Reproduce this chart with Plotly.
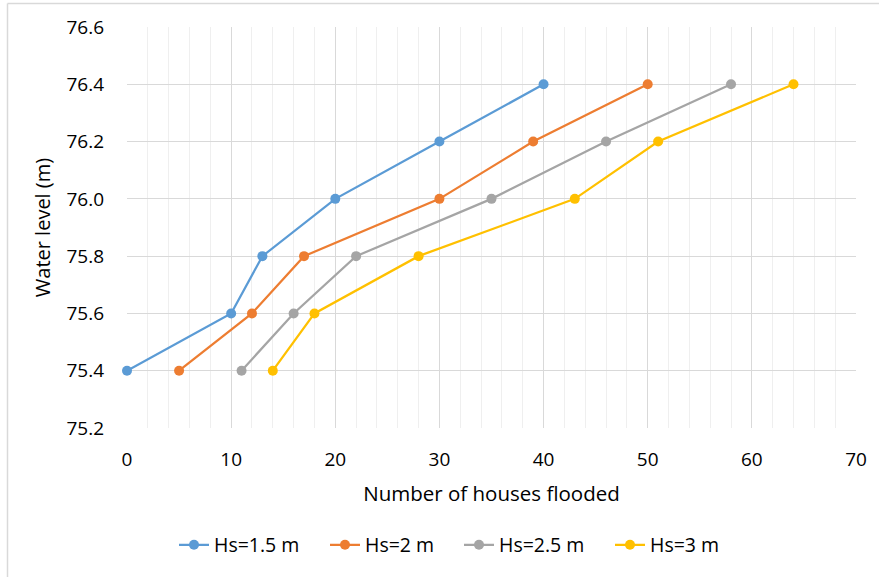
import plotly.graph_objects as go

levels = [75.4, 75.6, 75.8, 76.0, 76.2, 76.4]
hs15 = [0, 10, 13, 20, 30, 40]
hs2 = [5, 12, 17, 30, 39, 50]
hs25 = [11, 16, 22, 35, 46, 58]
hs3 = [14, 18, 28, 43, 51, 64]
names = ["Hs=1.5 m", "Hs=2 m", "Hs=2.5 m", "Hs=3 m"]
colors = ["#5B9BD5", "#ED7D31", "#A5A5A5", "#FFC000"]

W, H = 879, 577
L, R, T, B = 127, 23, 27, 147
pw, ph = W - L - R, H - T - B

legend_ids = ["legend", "legend2", "legend3", "legend4"]
legend_px = [174, 325, 459, 610]

fig = go.Figure()
for xs, name, c, lid in zip([hs15, hs2, hs25, hs3], names, colors, legend_ids):
    fig.add_trace(go.Scatter(x=xs, y=levels, name=name, mode="lines+markers",
                             line=dict(color=c, width=2.25), legend=lid,
                             marker=dict(color=c, size=10), cliponaxis=False))

font = "'Open Sans', sans-serif"
legends = {}
for lid, px in zip(legend_ids, legend_px):
    legends[lid] = dict(orientation="h", x=(px - L) / pw, xanchor="left", y=-0.292,
                        yanchor="middle", font=dict(size=19.5), itemwidth=30,
                        bgcolor="rgba(0,0,0,0)")

fig.update_layout(
    width=W, height=H, margin=dict(l=L, r=R, t=T, b=B),
    paper_bgcolor="white", plot_bgcolor="white",
    font=dict(family=font, size=19, color="#000000"),
    showlegend=True,
    xaxis=dict(range=[0, 70], dtick=10, tick0=0, showgrid=True, gridcolor="#d9d9d9", gridwidth=1,
               minor=dict(dtick=2, showgrid=True, gridcolor="#efefef", gridwidth=1),
               zeroline=False, showline=False, ticks="", ticklen=0,
               ticklabelstandoff=18,
               title=dict(text="Number of houses flooded", font=dict(size=20.5), standoff=15),
               tickfont=dict(size=19)),
    yaxis=dict(range=[75.2, 76.6], dtick=0.2, tick0=75.2, tickformat=".1f", showgrid=True,
               gridcolor="#d9d9d9", gridwidth=1, zeroline=False, showline=False,
               ticks="", ticklabelstandoff=22,
               title=dict(text="Water level (m)", font=dict(size=20), standoff=10),
               tickfont=dict(size=19)),
    **legends,
)

# outer chart border (top and left visible in reference)
x0 = (7.5 - L) / pw
y1 = 1 + (T - 3.5) / ph
fig.add_shape(type="line", xref="paper", yref="paper", x0=x0, x1=(W + 5 - L) / pw, y0=y1, y1=y1,
              line=dict(color="#d9d9d9", width=1.5))
fig.add_shape(type="line", xref="paper", yref="paper", x0=x0, x1=x0, y0=y1, y1=-(B + 5) / ph,
              line=dict(color="#d9d9d9", width=1.5))

fig.write_html("out.html")
